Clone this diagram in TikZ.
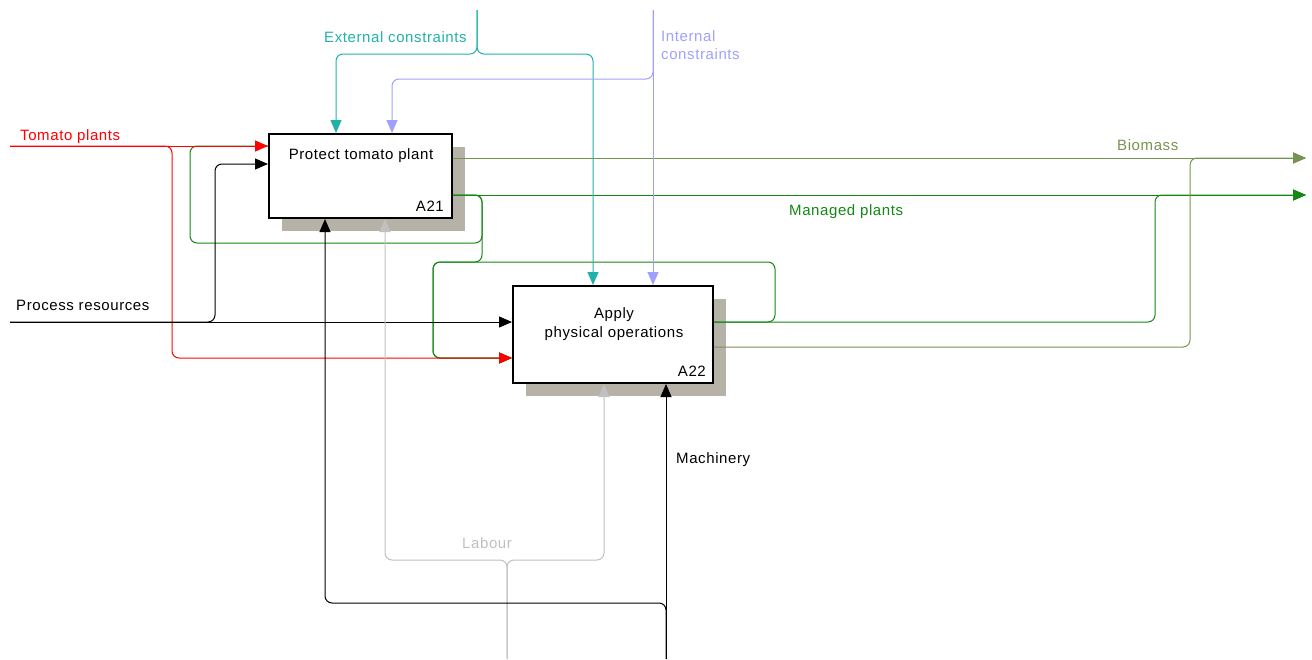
\documentclass[tikz,border=0pt]{standalone}
\usepackage{fontspec}
\setmainfont{Liberation Sans}[LetterSpace=4]
\usetikzlibrary{arrows.meta,shadows}
\definecolor{tomred}{RGB}{255,0,0}
\definecolor{extteal}{RGB}{32,178,170}
\definecolor{intlav}{RGB}{160,160,255}
\definecolor{biogreen}{RGB}{119,147,80}
\definecolor{mangreen}{RGB}{20,135,20}
\definecolor{labgray}{RGB}{192,192,192}
\definecolor{shadowgray}{RGB}{182,178,168}

\begin{document}
\begin{tikzpicture}[x=1pt,y=-1pt,
  font=\fontsize{15}{18}\selectfont,
  actbox/.style={draw=black, line width=2pt, fill=white, inner sep=0pt,
    drop shadow={shadow xshift=13pt, shadow yshift=-13pt, fill=shadowgray, opacity=1}},
  flow/.style={line width=1pt, rounded corners=7pt},
  tip/.style={-{Triangle[length=13pt,width=11pt]}},
  lbl/.style={inner sep=0pt, anchor=base west},
]
\useasboundingbox (0,0) rectangle (1312,659);

% activity boxes
\node[actbox, minimum width=183pt, minimum height=84pt] (a21) at (360.5,176) {};
\node[actbox, minimum width=200pt, minimum height=97pt] (a22) at (613,334.5) {};
\node[inner sep=0pt, anchor=base] (t21) at (361,159) {Protect tomato plant};
\node[inner sep=0pt, anchor=base east] (n21) at (444,211) {A21};
\node[inner sep=0pt, anchor=base] (t22a) at (614,318) {Apply};
\node[inner sep=0pt, anchor=base] (t22b) at (614,337) {physical operations};
\node[inner sep=0pt, anchor=base east] (n22) at (706,376) {A22};

% boundary ends
\coordinate (tpIn) at (10,146);
\coordinate (prIn) at (10,322);
\coordinate (ecIn) at (477,10);
\coordinate (icIn) at (653,10);
\coordinate (lbIn) at (507,659);
\coordinate (mcIn) at (666,659);
\coordinate (bmOut) at (1306,158);
\coordinate (mpOut) at (1306,195);

% managed plants (feedback and output)
\draw[flow, mangreen] (a21.east |- 0,195) -- (482,195) -- (482,243) -- (190,243) -- (190,146) -- (a21.west |- 0,146);
\draw[flow, mangreen, tip] (a21.east |- 0,195) -- (482,195) -- (482,262) -- (433,262) -- (433,358) -- (a22.west |- 0,358);
\draw[flow, mangreen, tip] (a22.east |- 0,322) -- (775,322) -- (775,262) -- (433,262) -- (433,358) -- (a22.west |- 0,358);
\draw[flow, mangreen, tip] (a22.east |- 0,322) -- (1155,322) -- (1155,195) -- (mpOut);
\draw[flow, mangreen, tip] (a21.east |- 0,195) -- (mpOut);

% biomass
\draw[flow, biogreen, tip] (a22.east |- 0,347) -- (1190,347) -- (1190,158) -- (bmOut);
\draw[flow, biogreen, tip] (a21.east |- 0,158) -- (bmOut);

% tomato plants
\draw[flow, tomred, tip] (tpIn) -- (172,146) -- (172,358) -- (a22.west |- 0,358);
\draw[flow, tomred, tip] (tpIn) -- (a21.west |- tpIn);

% process resources
\draw[flow, black, tip] (prIn) -- (215,322) -- (215,164) -- (a21.west |- 0,164);
\draw[flow, black, tip] (prIn) -- (a22.west |- prIn);

% external constraints
\draw[flow, extteal, tip] (ecIn) -- (477,54) -- (336,54) -- (a21.north -| 336,0);
\draw[flow, extteal, tip] (ecIn) -- (477,54) -- (593,54) -- (a22.north -| 593,0);

% internal constraints
\draw[flow, intlav, tip] (icIn) -- (653,79) -- (392,79) -- (a21.north -| 392,0);
\draw[flow, intlav, tip] (icIn) -- (a22.north -| icIn);

% labour
\draw[flow, labgray, tip] (lbIn) -- (507,560) -- (385,560) -- (a21.south -| 385,0);
\draw[flow, labgray, tip] (lbIn) -- (507,560) -- (604,560) -- (a22.south -| 604,0);

% machinery
\draw[flow, black, tip] (mcIn) -- (666,603) -- (325,603) -- (a21.south -| 325,0);
\draw[flow, black, tip] (mcIn) -- (a22.south -| mcIn);

% arrow labels
\node[lbl, text=tomred] (ltp) at (20,140) {Tomato plants};
\node[lbl, text=black] (lpr) at (16,310) {Process resources};
\node[lbl, text=extteal] (lec) at (324,42) {External constraints};
\node[lbl, text=intlav, align=left, anchor=north west] (lic) at (661,30) {Internal\\constraints};
\node[lbl, text=biogreen] (lbm) at (1117,150) {Biomass};
\node[lbl, text=mangreen] (lmp) at (789,215) {Managed plants};
\node[lbl, text=black] (lmc) at (676,463) {Machinery};
\node[lbl, text=labgray] (llb) at (462,548) {Labour};
\end{tikzpicture}
\end{document}
